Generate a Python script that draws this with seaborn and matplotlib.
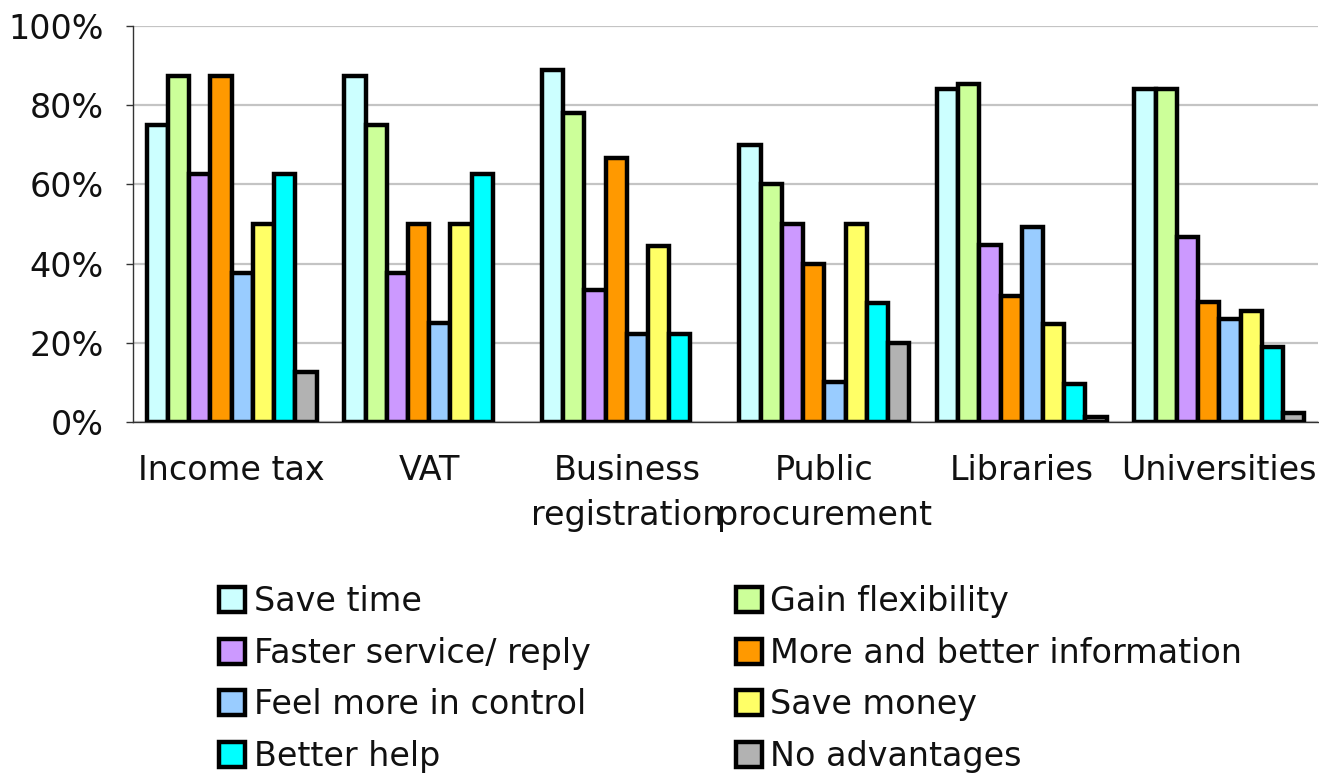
import numpy as np
import pandas as pd
import matplotlib
matplotlib.use("Agg")
import matplotlib.pyplot as plt
from matplotlib.ticker import FuncFormatter
import seaborn as sns

services = ["Income tax", "VAT", "Business\nregistration", "Public\nprocurement",
            "Libraries", "Universities"]
advantages = ["Save time", "Gain flexibility", "Faster service/ reply",
              "More and better information", "Feel more in control", "Save money",
              "Better help", "No advantages"]

# share of respondents (%) naming each advantage, per service
save_time = [75.0, 87.5, 89.0, 70.0, 84.0, 84.0]
gain_flexibility = [87.5, 75.0, 78.0, 60.0, 85.3, 84.0]
faster_service = [62.5, 37.5, 33.3, 50.0, 44.7, 46.6]
more_information = [87.5, 50.0, 66.7, 40.0, 31.9, 30.2]
more_control = [37.5, 25.0, 22.2, 10.0, 49.2, 26.0]
save_money = [50.0, 50.0, 44.4, 50.0, 24.8, 28.1]
better_help = [62.5, 62.5, 22.2, 30.0, 9.7, 18.9]
no_advantages = [12.5, np.nan, np.nan, 20.0, 1.2, 2.2]

series = [save_time, gain_flexibility, faster_service, more_information,
          more_control, save_money, better_help, no_advantages]

colors = ["#CCFFFF", "#CCFF99", "#CC99FF", "#FF9900",
          "#99CCFF", "#FFFF66", "#00FFFF", "#B2B2B2"]

rows = []
for adv, vals in zip(advantages, series):
    for svc, v in zip(services, vals):
        rows.append({"service": svc, "advantage": adv, "value": v})
df = pd.DataFrame(rows).dropna()

sns.set_theme(style="white")
plt.rcParams["font.family"] = ["DejaVu Sans"]
plt.rcParams["text.color"] = "#111111"

fig = plt.figure(figsize=(13.19, 7.74), dpi=100)
ax = fig.add_axes([0.1008, 0.4548, 0.8985, 0.5116])

sns.barplot(data=df, x="service", y="value", hue="advantage",
            order=services, hue_order=advantages, palette=colors,
            saturation=1, width=0.86, edgecolor="black", linewidth=3.2,
            errorbar=None, ax=ax, zorder=3)

ax.set_ylim(0, 100)
ax.set_xlim(-0.5, len(services) - 0.5)
ax.set_yticks([0, 20, 40, 60, 80, 100])
ax.yaxis.set_major_formatter(FuncFormatter(lambda v, _: f"{v:.0f}%"))
ax.yaxis.grid(True, color="#c4c4c4", linewidth=1.6, zorder=0)
ax.set_axisbelow(True)
ax.set_xlabel("")
ax.set_ylabel("")

for side in ("top", "right"):
    ax.spines[side].set_visible(False)
ax.spines["left"].set_color("#333333")
ax.spines["left"].set_linewidth(1.0)
ax.spines["bottom"].set_color("#333333")
ax.spines["bottom"].set_linewidth(1.0)

ax.tick_params(axis="y", which="major", left=True, length=5, width=1,
               color="#333333", labelsize=24, pad=16, labelcolor="#111111")
ax.tick_params(axis="x", which="major", bottom=False, length=0,
               labelsize=24, pad=23, labelcolor="#111111")
for lab in ax.get_xticklabels():
    lab.set_linespacing(1.45)

handles, labels = ax.get_legend_handles_labels()
ax.get_legend().remove()
order = [0, 2, 4, 6, 1, 3, 5, 7]
leg = fig.legend([handles[i] for i in order], [labels[i] for i in order],
                 loc="upper left", bbox_to_anchor=(0.1663, 0.244),
                 ncol=2, frameon=False, fontsize=24,
                 handlelength=0.78, handleheight=0.78, handletextpad=0.25,
                 columnspacing=4.35, labelspacing=0.56, borderpad=0,
                 borderaxespad=0)

fig.savefig("out.png", dpi=100)
